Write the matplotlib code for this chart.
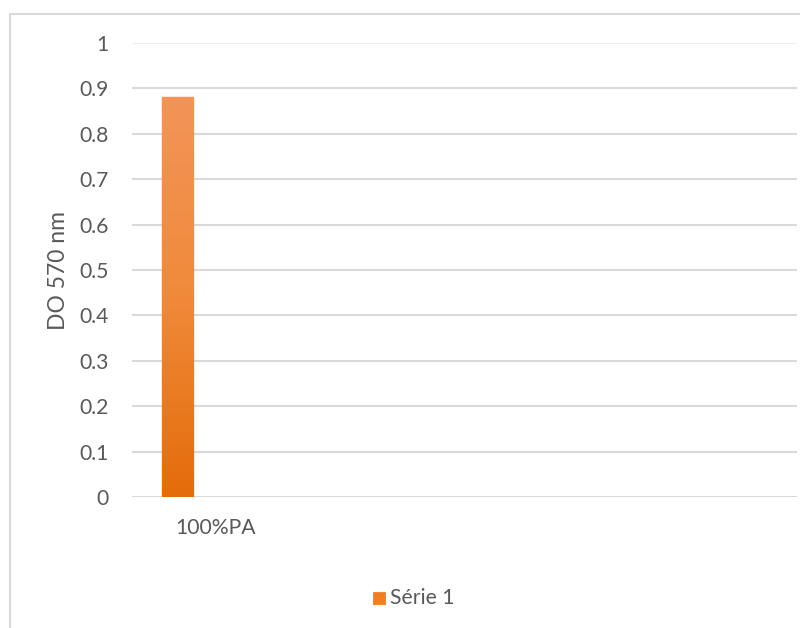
import numpy as np
import matplotlib
matplotlib.use("Agg")
import matplotlib.pyplot as plt
from matplotlib.patches import Rectangle
from matplotlib.colors import LinearSegmentedColormap

plt.rcParams['font.family'] = ['Lato', 'DejaVu Sans']

# data
categories = ["100%PA", "", "", ""]
serie1 = [0.88]
series_name = "Série 1"
yticks = [0, 0.1, 0.2, 0.3, 0.4, 0.5, 0.6, 0.7, 0.8, 0.9, 1]

text_col = "#595959"
grid_col = "#D9D9D9"
fs = 15.2

fig = plt.figure(figsize=(8, 6.28), dpi=100)
ax = fig.add_axes([0.165, 0.2086, 0.831, 0.7229])

# outer chart border
fig.patches.append(Rectangle((10 / 800, -0.02), 1.0, 1 - 14 / 628 + 0.02,
                             transform=fig.transFigure, fill=False,
                             edgecolor=grid_col, linewidth=1.5))

ax.set_xlim(-0.5, len(categories) - 0.5)
ax.set_ylim(0, 1)

# gridlines
for t in yticks:
    ax.axhline(t, color="#F0F0F0" if t == 1 else grid_col, lw=1.5, zorder=0)

# bars: first series in a cluster of four, with an orange vertical gradient
offset = -0.226
width = 0.187
cmap = LinearSegmentedColormap.from_list("orange", ["#E46C0A", "#F08A3A", "#F39458"])
grad = np.linspace(0, 1, 256).reshape(-1, 1)
for i, v in enumerate(serie1):
    x0 = i + offset - width / 2
    bar = ax.bar(i + offset, v, width=width, color="#F07F22",
                 edgecolor="#F08A3A", linewidth=1, zorder=2)[0]
    im = ax.imshow(grad, cmap=cmap, origin="lower", aspect="auto",
                   extent=[x0, x0 + width, 0, v], zorder=2.5)
    im.set_clip_path(bar)
ax.set_xlim(-0.5, len(categories) - 0.5)

ax.set_xticks(range(len(categories)))
ax.set_xticklabels(categories)
ax.set_yticks(yticks)
ax.set_yticklabels([f"{t:g}" for t in yticks])
ax.tick_params(length=0, labelsize=fs, colors=text_col)
ax.tick_params(axis="y", pad=17)
ax.tick_params(axis="x", pad=15)
for s in ax.spines.values():
    s.set_visible(False)

ax.set_ylabel("DO 570 nm", fontsize=16.5, color=text_col, labelpad=7)

# legend
fig.patches.append(Rectangle((373 / 800, 1 - 604 / 628), 12 / 800, 12 / 628,
                             transform=fig.transFigure, facecolor="#F07F22",
                             edgecolor="#F08A3A", linewidth=0.8))
fig.text(390 / 800, 1 - 598 / 628, series_name, fontsize=fs, color=text_col,
         va="center", ha="left")

fig.savefig("out.png", dpi=100)
